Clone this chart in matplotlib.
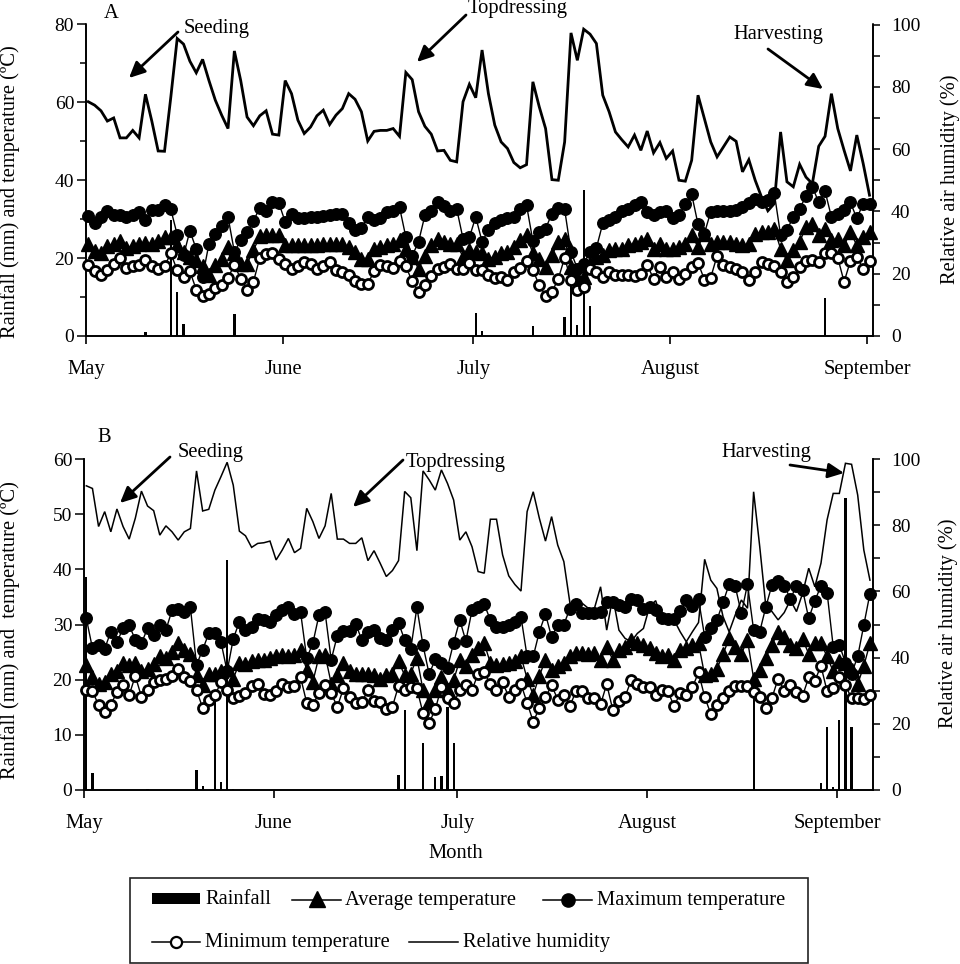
import numpy as np
import matplotlib
matplotlib.use('Agg')
import matplotlib.pyplot as plt
from matplotlib.lines import Line2D
from matplotlib.patches import Rectangle

plt.rcParams['font.family'] = ['Liberation Serif', 'DejaVu Sans']

W, H = 960, 964

months = ['May', 'June', 'July', 'August', 'September']
month_starts = [0, 31, 61, 92, 123]

# panel A, daily values
hum_a = [75.2, 74.1, 72.3, 69, 70, 63.6, 63.6, 66, 63.6, 77.6, 69, 59.4, 59.3, 76.8, 95.5, 93.7, 88.2, 84.5, 88.8, 82,
         75.7, 70.9, 66.6, 91.5, 82, 70.3, 67.5, 70.7, 72.3, 64.8, 64.5, 82, 77.8, 69.3, 65, 67.1, 70.7, 72.5, 67.9, 70.9,
         73, 77.8, 76, 72, 62.6, 65.7, 66, 66, 66.6, 64.1, 84.6, 82.3, 72, 67.3, 64.8, 59.4, 59.6, 56.4, 55.9, 75.2,
         80.8, 76.5, 91.8, 77.8, 67.7, 62.3, 60.2, 55.7, 54, 55, 81.6, 73.6, 66.6, 50.2, 50, 62.3, 97.3, 88.5, 98.5, 96.9,
         93.9, 77.3, 72, 65.5, 63, 60.7, 64.5, 59.6, 65.8, 58.8, 62.1, 57, 59.4, 50, 49.7, 56.4, 77.3, 69.8, 62.3, 57.5,
         60.7, 63.9, 62.5, 52.7, 56.6, 50, 44.6, 40.2, 42.5, 65.5, 49.5, 47.9, 55.1, 51, 48.9, 60.9, 64.1, 77.8, 66.6, 59.6,
         53, 64.5, 55.4, 45.2]
tmax_a = [30.7, 28.9, 30.6, 32, 31, 31, 30.6, 31, 31.8, 29.7, 32.3, 32.3, 33.6, 32.5, 26, 20.7, 27, 22.3, 15.2, 23.7,
          26.1, 28.2, 30.6, 21.6, 24.6, 26.6, 29.5, 33, 32.1, 34.4, 34.2, 29.3, 31.4, 30.2, 30.2, 30.6, 30.6, 30.7, 31, 31.4,
          31.4, 29, 27.3, 27.8, 30.6, 29.7, 30.2, 31.9, 32.1, 33.1, 25.4, 20.6, 24.2, 31, 32.1, 34.4, 33.3, 32, 32.7, 25,
          25.3, 30.6, 24.2, 27.2, 28.9, 29.9, 30.4, 30.6, 32.7, 33.6, 24.4, 26.7, 27.6, 31.4, 33, 32.5, 21.6, 17.3, 18.6, 21.6,
          22.6, 28.9, 29.7, 30.6, 32, 32.5, 33.6, 34.4, 31.9, 31, 31.9, 32.1, 30.4, 31, 34, 36.4, 28.7, 26.3, 31.9, 32.1,
          32.1, 32.1, 32.3, 33.1, 34.2, 35.3, 34.4, 34.9, 36.8, 25.9, 27.2, 30.6, 32.7, 35.9, 38.3, 34.4, 37.2, 30.6, 31.4, 32.3,
          34.3, 30.2, 34, 33.8]
tavg_a = [23.7, 21.8, 21.2, 23.1, 23.6, 24.4, 22.7, 23, 23.7, 23.9, 23.7, 24.4, 25.3, 25.4, 23.3, 21.6, 20.3, 19.4, 18.1, 15.6,
          18.2, 19.9, 22.9, 21.2, 18.6, 18.6, 22, 25.6, 25.9, 26, 26, 23.3, 23.3, 23.3, 23.3, 23.4, 23.4, 23.5, 23.5, 23.6,
          23.7, 22.9, 21.6, 19.9, 19.9, 22.4, 22.8, 23.3, 23.7, 24.6, 22.4, 20.3, 17.3, 20.5, 23.3, 25, 24.2, 23.7, 23.7, 20.3,
          22, 21.6, 21.2, 19.9, 20.3, 21.2, 21.6, 22.9, 24.6, 25.9, 21.2, 19.9, 17.7, 20.7, 24.2, 25, 17.7, 15.2, 15.2, 18.6,
          20.3, 20.7, 22, 22.4, 22.4, 23.3, 23.7, 24.2, 25, 22.4, 23.7, 22.4, 22.4, 22.9, 23.7, 25.9, 22.9, 26.3, 23.7, 24.2,
          24.2, 24.2, 23.7, 23.3, 23.5, 26.3, 26.6, 26.7, 27.6, 22.4, 19.4, 22, 24.2, 28, 28.7, 25.9, 27.6, 24.6, 25, 23.3,
          26.7, 23.3, 25.4, 26.7]
tmin_a = [18.3, 16.7, 15.6, 16.9, 18.4, 20.1, 17.5, 18, 18.2, 19.6, 18, 17.3, 18, 21.2, 16.9, 15.2, 16.6, 11.9, 10.3, 10.9,
          12.4, 13.2, 15, 18.2, 14.7, 11.9, 13.9, 20.1, 21, 21.2, 19.9, 18.6, 17.3, 17.9, 19, 18.4, 17.3, 17.9, 19, 16.9,
          16.4, 15.6, 14.1, 13.4, 13.3, 16.7, 18.3, 18, 17.5, 19.2, 17.9, 14, 11.3, 13, 15.3, 17.1, 17.7, 18.4, 17.3, 17.3,
          18.8, 16.9, 16.9, 15.6, 15, 15.2, 14.3, 16.4, 17.5, 19.3, 17, 13, 10.4, 11.3, 14.7, 20.1, 14.3, 11.9, 12.6, 17.3,
          16.4, 15.2, 16.4, 15.6, 15.6, 15.6, 15.3, 16, 18.2, 14.7, 17.7, 15.2, 16.4, 14.7, 15.8, 17.7, 18.8, 14.5, 15, 20.6,
          18.2, 17.7, 17.3, 16.4, 14.5, 16.4, 19, 18.4, 17.9, 16.4, 13.9, 15.2, 17.6, 19.3, 19.6, 19, 21.2, 21.2, 20.1, 13.9,
          19.3, 20.3, 17.3, 19.3]
rain_days_a = [9, 13, 14, 15, 16, 23, 61, 62, 70, 71, 75, 76, 77, 78, 79, 116]
rain_a = [0.9, 29.7, 11.2, 3, 0.3, 5.6, 6, 1.3, 2.5, 0.1, 5, 14, 2.7, 37.4, 7.8, 9.8]

# panel B, daily values
hum_b = [91.9, 91.1, 79.6, 84.1, 78, 84.9, 79.6, 75.8, 82.1, 90.3, 85.8, 84.4, 77, 79.8, 78, 75.5, 78, 79, 96.4, 84.3,
         84.8, 90.6, 94.7, 99, 92.1, 78.2, 76.8, 73.3, 74.5, 74.7, 75.2, 69.5, 72.5, 76, 71.7, 73, 85.1, 81.1, 76, 79.8,
         89.6, 75.8, 75.8, 74.5, 74.5, 76.2, 69.3, 72.3, 68.5, 64.5, 66.3, 69.3, 90.2, 88.3, 72.3, 96.4, 93.7, 90.6, 96.7, 92.6,
         87.6, 75.5, 78, 73.5, 66, 65.5, 81.8, 81.8, 71, 64.7, 62.1, 60.1, 84.1, 90.1, 82.1, 75.2, 82.6, 74, 69, 56.4,
         56.4, 56.4, 54.9, 54.9, 61.4, 48.3, 58.4, 48.3, 45.8, 44.8, 47.3, 48.8, 55.4, 57.2, 51.4, 51.9, 51.4, 47.8, 44.8, 47.8,
         50.6, 69.7, 63.4, 60.9, 52.4, 47.8, 52.9, 57.4, 54.9, 90.1, 73.5, 55.4, 53.9, 51.4, 53.6, 57.4, 53.9, 59.4, 67, 61.4,
         68.5, 81.6, 89.6, 89.6, 98.7, 98.4, 89.1, 72.5, 63.4]
tmax_b = [31.1, 25.7, 26.3, 25.6, 28.7, 26.8, 29.3, 29.9, 27.2, 26.6, 29.3, 28.1, 30, 29, 32.6, 32.9, 32.3, 33.1, 22.7, 25.4,
          28.4, 28.5, 26.8, 21.5, 27.4, 30.5, 29, 29.6, 31, 30.9, 30.4, 31.7, 32.6, 33.1, 31.9, 32.2, 23.9, 26.6, 31.7, 32.2,
          23.6, 28, 28.8, 28.9, 30.1, 27.2, 28.7, 29, 27.5, 27.2, 29, 30.3, 27.2, 25.6, 33.1, 26.2, 21, 23.7, 23, 22.2,
          26.7, 30.8, 27, 32.6, 33.1, 33.7, 30.8, 29.5, 29.6, 29.9, 30.5, 31.4, 24.2, 24.2, 28.7, 31.9, 27.7, 29.9, 30, 32.9,
          33.7, 32, 32, 32.1, 32.3, 34, 34.1, 33.5, 33.2, 34.7, 34.4, 32.9, 33.2, 32.6, 31.1, 31, 31, 32.4, 34.4, 33.4,
          34.6, 27.8, 29.3, 30.8, 34, 37.3, 36.9, 32, 37.3, 29, 28.7, 33.2, 37.2, 37.8, 37, 34.7, 36.9, 36.3, 31.1, 34.3,
          37, 35.8, 26, 26.3, 23.1, 21.1, 24.2, 29.9, 35.6]
tavg_b = [22.7, 20.5, 19.2, 19.6, 21, 21.5, 23, 22.7, 23, 21.6, 22, 22.8, 24.2, 23.9, 25.1, 26.6, 25.4, 24.7, 20.8, 19,
          21.1, 21.1, 21.5, 22, 20.2, 23, 22.9, 23.3, 23.6, 23.6, 23.9, 24.2, 24.4, 24.2, 24.4, 25.4, 21.8, 19.6, 24.2, 24.5,
          19.3, 20.8, 23, 21.5, 21.1, 21.1, 21.1, 20.8, 20.2, 20.8, 21.1, 23.3, 20.8, 21.1, 24, 18.1, 16, 18.1, 20.5, 18.1,
          19.9, 23.6, 22.4, 24.5, 25.7, 26.6, 23, 22.7, 22.8, 23, 23.3, 24.2, 20.2, 17.2, 20.7, 23.6, 21.8, 22.4, 23, 24.2,
          24.8, 24.8, 24.7, 24.8, 23.6, 26, 23.6, 25.4, 26, 27.2, 26.6, 26.3, 25.7, 24.8, 24.2, 24.5, 23.6, 25.4, 25.7, 26.3,
          26.6, 20.8, 21.1, 22, 24.6, 27.5, 26, 24.7, 27.2, 20.2, 21.8, 24, 26.3, 28.7, 27.8, 26.3, 25.7, 27.3, 24.7, 26.6,
          26.6, 24.2, 21.5, 23.3, 23, 21.8, 19.2, 22.5, 26.6]
tmin_b = [18.1, 17.9, 15.4, 14.2, 15.4, 17.8, 19, 17.2, 20.7, 16.9, 18.2, 19.6, 20, 20.2, 20.7, 21.9, 20.4, 19.8, 18.1, 14.9,
          16.4, 17.2, 19.5, 18.1, 16.6, 17, 17.6, 18.9, 19.2, 17.4, 17.2, 17.9, 19.2, 18.6, 18.9, 20.4, 15.8, 15.4, 17.6, 19,
          17.5, 15.1, 18.4, 16.9, 15.7, 15.9, 18.1, 16.2, 15.9, 14.6, 15.1, 18.9, 18.1, 18.7, 18.4, 13.9, 12.2, 14.6, 18.7, 16.7,
          15.7, 18.1, 19, 18.1, 21.1, 21.3, 19.2, 18.2, 19.5, 16.9, 18.1, 19.2, 15.8, 12.4, 14.8, 16.8, 19, 16.4, 17.3, 15.3,
          17.9, 17.9, 16.6, 16.6, 15.5, 19.2, 14.5, 16.1, 16.9, 19.9, 19.3, 18.6, 18.7, 17.3, 18.2, 17.9, 15.2, 17.5, 17.3, 18.6,
          21.3, 16.9, 13.8, 15.4, 16.7, 17.9, 18.9, 18.9, 18.9, 17.8, 16.9, 14.8, 16.7, 20.2, 18, 19, 17.8, 17.1, 20.4, 19.8,
          22.5, 17.9, 18.4, 20.4, 19, 16.6, 16.7, 16.5, 17.3]
rain_days_b = [0, 1, 10, 18, 19, 21, 22, 23, 24, 51, 52, 55, 57, 58, 59, 60, 109, 120, 121, 122, 123, 124, 125, 126]
rain_b = [38.7, 3, 0.2, 3.7, 0.8, 16.9, 1.5, 41.7, 0.2, 2.8, 14.5, 8.6, 2.3, 2.5, 15, 8.5, 17, 1.3, 11.5, 0.5, 12.6, 52.9, 11.5, 0.2]


def fx(px):
    return px / W


def fy(py):
    return 1 - py / H


def draw_panel(box, xlim, shift, ymax, yticks, yminor, hum, tavg, tmax, tmin, rain_days, rain, hum_lw):
    left, top, right, bottom = box
    ax2 = fig.add_axes([fx(left), fy(bottom), fx(right - left), fy(top) - fy(bottom)])
    ax = ax2.twinx()
    # temperature axis lives on the left, humidity underneath the markers
    ax.yaxis.tick_left()
    ax2.yaxis.tick_right()
    ax.patch.set_visible(False)
    x = np.arange(len(hum))

    ax2.plot(x, hum, color='black', lw=hum_lw, solid_joinstyle='miter')
    ax.bar(rain_days, rain, width=0.36, color='black', zorder=2)
    ax.plot(x, tavg, color='black', lw=1.0, marker='^', ms=9.5, mfc='black', mec='black', zorder=3, clip_on=False)
    ax.plot(x, tmax, color='black', lw=1.0, marker='o', ms=8.3, mfc='black', mec='black', zorder=4, clip_on=False)
    ax.plot(x, tmin, color='black', lw=1.0, marker='o', ms=7.2, mfc='white', mec='black', mew=2.0, zorder=5, clip_on=False)

    for a in (ax, ax2):
        a.set_xlim(xlim)
        a.spines['top'].set_visible(False)
        a.spines['left'].set_linewidth(1.2)
        a.spines['right'].set_linewidth(1.2)
        a.spines['bottom'].set_linewidth(1.2)
        a.set_xticks([m + shift for m in month_starts])
        a.set_xticklabels(months, fontsize=14.8)
        a.tick_params(axis='x', length=6, width=1.2, pad=11)

    ax.set_ylim(0, ymax)
    ax.set_yticks(yticks)
    if yminor:
        ax.set_yticks(yminor, minor=True)
    ax.tick_params(axis='y', which='major', length=6.5, width=1.1, labelsize=14, pad=2)
    ax.tick_params(axis='y', which='minor', length=4.5, width=1.1)
    ax2.set_ylim(0, 100)
    ax2.set_yticks([0, 20, 40, 60, 80, 100])
    ax2.set_yticks([10, 30, 50, 70, 90], minor=True)
    ax2.tick_params(axis='y', which='major', length=5, width=1.1, labelsize=14, pad=8)
    ax2.tick_params(axis='y', which='minor', length=5, width=1.1)
    return ax


def note(px, py, text, **kw):
    # va=center sits a little high because of the descenders
    overlay.text(px, py + 2, text, fontsize=14.8, va='center', **kw)


def side_label(px, py, text):
    overlay.text(px, py, text, fontsize=14.8, va='center', ha='center', rotation=90)


def arrow(start, end):
    overlay.annotate('', xy=end, xytext=start,
                     arrowprops=dict(arrowstyle='-|>,head_length=0.95,head_width=0.45', color='black', lw=2.0,
                                     shrinkA=0, shrinkB=0))


fig = plt.figure(figsize=(W / 100, H / 100), dpi=100, facecolor='white')

draw_panel((86, 24.5, 873, 336), (-0.36, 123.55), -0.36, 80, [0, 20, 40, 60, 80], [10, 30, 50, 70],
           hum_a, tavg_a, tmax_a, tmin_a, rain_days_a, rain_a, 2.0)
draw_panel((84, 459, 873, 790), (-0.38, 128.5), -0.38, 60, [0, 10, 20, 30, 40, 50, 60], None,
           hum_b, tavg_b, tmax_b, tmin_b, rain_days_b, rain_b, 1.1)

# overlay in pixel coordinates for arrows, notes and the legend
overlay = fig.add_axes([0, 0, 1, 1], zorder=10)
overlay.set_xlim(0, W)
overlay.set_ylim(H, 0)
overlay.axis('off')

note(104, 11, 'A')
note(184, 26, 'Seeding')
note(468, 7, 'Topdressing')
note(733, 33, 'Harvesting')
arrow((178, 32), (129, 78))
arrow((466, 15), (417, 62))
arrow((768, 49), (823, 89))

note(97, 436, 'B')
note(178, 451, 'Seeding')
note(406, 460, 'Topdressing')
note(721, 451, 'Harvesting')
arrow((170, 457), (120, 503))
arrow((403, 460), (353, 507))
arrow((790, 465), (844, 473))

side_label(10, 192, 'Rainfall (mm) and temperature (ºC)')
side_label(950, 179, 'Relative air humidity (%)')
side_label(10, 630, 'Rainfall (mm) and  temperature (ºC)')
side_label(948, 623, 'Relative air humidity (%)')
note(456, 852, 'Month', ha='center')

# legend, laid out by hand since its rows are not aligned
overlay.add_patch(Rectangle((130, 877.5), 678, 85.5, fc='white', ec='#222222', lw=1.2))
overlay.add_patch(Rectangle((152, 893), 48, 11, fc='black', ec='none'))
note(205, 898, 'Rainfall')
overlay.add_line(Line2D([292, 341], [900, 900], color='black', lw=1.1))
overlay.plot([316.5], [899], marker='^', ms=11, color='black')
note(345, 898, 'Average temperature')
overlay.add_line(Line2D([543, 592], [900, 900], color='black', lw=1.1))
overlay.plot([568], [900], marker='o', ms=9.5, color='black')
note(597, 898, 'Maximum temperature')
overlay.add_line(Line2D([152, 200], [942, 942], color='black', lw=1.1))
overlay.plot([176], [942], marker='o', ms=8, mfc='white', mec='black', mew=1.6)
note(205, 941, 'Minimum temperature')
overlay.add_line(Line2D([409, 458], [942, 942], color='black', lw=1.1))
note(463, 941, 'Relative humidity')

fig.savefig('out.png', dpi=100)
plt.close(fig)
